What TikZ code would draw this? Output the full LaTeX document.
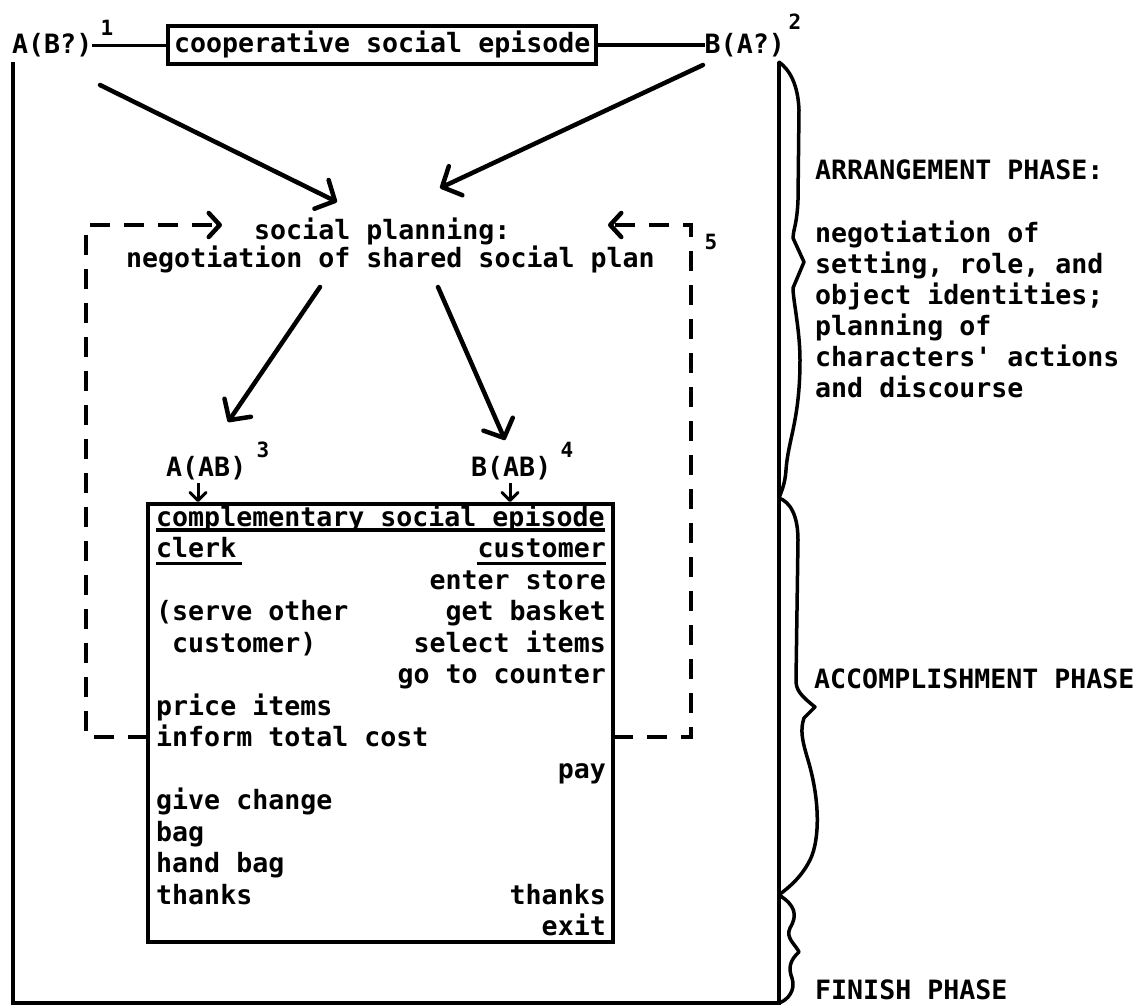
\documentclass[tikz,border=0pt]{standalone}
\usepackage{fontspec}
\newfontfamily\tw{DejaVu Sans Mono}
\usetikzlibrary{arrows.meta,calc}
\tikzset{
  txt/.style={font=\tw\bfseries\fontsize{26.6}{31.5}\selectfont, inner sep=0pt},
  supnum/.style={font=\tw\bfseries\fontsize{21}{24}\selectfont, inner sep=0pt},
  frameline/.style={line width=4pt},
  joinline/.style={line width=3.5pt},
  bigarr/.style={line width=4.5pt, line cap=round, -{Straight Barb[length=15pt,width=32pt,round]}},
  smallarr/.style={line width=3pt, -{Straight Barb[length=8pt,width=16pt,round]}},
  dashline/.style={line width=4.5pt, dash pattern=on 20pt off 14pt, -{Straight Barb[length=11pt,width=24pt,round]}},
  bracel/.style={line width=3.5pt, line join=round, line cap=round},
  uline/.style={line width=3.5pt}
}
\begin{document}
\begin{tikzpicture}[x=1pt,y=-1pt]
\fill[white] (0,0) rectangle (1136,1008);
\useasboundingbox (0,0) rectangle (1136,1008);

% top row
\node[txt,anchor=base west] (aq) at (12,54) {A(B?)};
\node[supnum] (s1) at (107,28) {1};
\node[txt,draw,line width=4pt,anchor=base west,inner xsep=6pt,inner ysep=5pt] (coop) at (166,53) {cooperative social episode};
\node[txt,anchor=base east] (bq) at (785,54) {B(A?)};
\node[supnum] (s2) at (795,22) {2};
\draw[joinline] (aq.east) -- (aq.east -| coop.west);
\draw[joinline] (coop.east) -- (coop.east -| bq.west);

% outer frame
\coordinate (ftl) at (13,62);
\coordinate (fbl) at (13,1003);
\coordinate (fbr) at (779,1003);
\coordinate (ftr) at (779,62);
\draw[frameline] (ftl) -- (fbl) -- (fbr) -- (ftr);

% braces
\draw[bracel] (779,62) .. controls (790,70) and (798,85) .. (799,110) -- (798,200)
  .. controls (797,225) and (793,230) .. (793,238) -- (804,262) -- (793,288)
  .. controls (793,300) and (800,330) .. (800,360)
  .. controls (800,420) and (788,440) .. (786,470)
  .. controls (785,485) and (781,492) .. (779,498);
\draw[bracel] (779,498) .. controls (790,502) and (798,515) .. (798,540) -- (796,680)
  .. controls (796,690) and (800,695) .. (815,707) -- (804,718)
  .. controls (800,730) and (802,740) .. (808,760)
  .. controls (820,800) and (820,840) .. (810,860)
  .. controls (800,880) and (785,890) .. (779,895);
\draw[bracel] (779,895) .. controls (795,905) and (798,915) .. (790,928)
  .. controls (785,938) and (796,945) .. (799,952)
  .. controls (790,960) and (788,968) .. (792,978)
  .. controls (796,990) and (788,1000) .. (779,1003);

% phase labels
\node[txt,anchor=base west] (ph1) at (815,180) {ARRANGEMENT PHASE:};
\node[txt,anchor=base west] (ph1a) at (815,243) {negotiation of};
\node[txt,anchor=base west] (ph1b) at (815,274) {setting, role, and};
\node[txt,anchor=base west] (ph1c) at (815,305) {object identities;};
\node[txt,anchor=base west] (ph1d) at (815,336) {planning of};
\node[txt,anchor=base west] (ph1e) at (815,367) {characters\textquotesingle{} actions};
\node[txt,anchor=base west] (ph1f) at (815,398) {and discourse};
\node[txt,anchor=base west] (ph2) at (814,688) {ACCOMPLISHMENT PHASE};
\node[txt,anchor=base west] (ph3) at (815,999) {FINISH PHASE};

% social planning
\node[txt,anchor=base west] (sp1) at (254,240) {social planning:};
\node[txt,anchor=base west] (sp2) at (126,268) {negotiation of shared social plan};

\coordinate (a1s) at (100,85);  \coordinate (a1e) at (337,202);
\coordinate (a2s) at (703,65);  \coordinate (a2e) at (440,188);
\draw[bigarr] (a1s) -- (a1e);
\draw[bigarr] (a2s) -- (a2e);

% A(AB), B(AB)
\node[txt,anchor=base west] (aab) at (166,476) {A(AB)};
\node[supnum] (s3) at (263,450) {3};
\node[txt,anchor=base west] (bab) at (471,476) {B(AB)};
\node[supnum] (s4) at (567,450) {4};

\coordinate (a3s) at (320,287); \coordinate (a3e) at (228,422);
\coordinate (a4s) at (438,287); \coordinate (a4e) at (505,440);
\draw[bigarr] (a3s) -- (a3e);
\draw[bigarr] (a4s) -- (a4e);

% complementary box
\node[draw,line width=4pt,minimum width=465pt,minimum height=438pt,inner sep=0pt] (cbox) at (380.5,723) {};
\coordinate (sa1) at (198,483);
\coordinate (sa2) at (510,483);
\draw[smallarr] (sa1) -- (sa1 |- cbox.north);
\draw[smallarr] (sa2) -- (sa2 |- cbox.north);

\node[txt,anchor=base west] (r0) at (156,526) {complementary social episode};
\node[txt,anchor=base west] (r1l) at (156,557.5) {clerk};
\node[txt,anchor=base east] (r1r) at (606,557.5) {customer};
\node[txt,anchor=base east] (r2r) at (606,589) {enter store};
\node[txt,anchor=base west] (r3l) at (156,620.5) {(serve other};
\node[txt,anchor=base east] (r3r) at (606,620.5) {get basket};
\node[txt,anchor=base west] (r4l) at (172,652) {customer)};
\node[txt,anchor=base east] (r4r) at (606,652) {select items};
\node[txt,anchor=base east] (r5r) at (606,683.5) {go to counter};
\node[txt,anchor=base west] (r6l) at (156,715) {price items};
\node[txt,anchor=base west] (r7l) at (156,746.5) {inform total cost};
\node[txt,anchor=base east] (r8r) at (606,778) {pay};
\node[txt,anchor=base west] (r9l) at (156,809.5) {give change};
\node[txt,anchor=base west] (r10l) at (156,841) {bag};
\node[txt,anchor=base west] (r11l) at (156,872.5) {hand bag};
\node[txt,anchor=base west] (r12l) at (156,904) {thanks};
\node[txt,anchor=base east] (r12r) at (606,904) {thanks};
\node[txt,anchor=base east] (r13r) at (606,935.5) {exit};

\draw[uline] ($(r0.base west)+(0,4)$) -- ($(r0.base east)+(0,4)$);
\draw[uline] ($(r1l.base west)+(0,6)$) -- ($(r1l.base east)+(6,6)$);
\draw[uline] ($(r1r.base west)+(0,6)$) -- ($(r1r.base east)+(0,6)$);

% dashed feedback loop
\coordinate (dlb) at (148,737); \coordinate (dlc) at (86,737);
\coordinate (dlt) at (86,225);  \coordinate (dle) at (222,225);
\coordinate (drb) at (613,737); \coordinate (drc) at (691,737);
\coordinate (drt) at (691,225); \coordinate (dre) at (608,225);
\draw[dashline] (dlb) -- (dlc) -- (dlt) -- (dle);
\draw[dashline] (drb) -- (drc) -- (drt) -- (dre);
\node[supnum] (s5) at (711,242) {5};
\end{tikzpicture}
\end{document}
